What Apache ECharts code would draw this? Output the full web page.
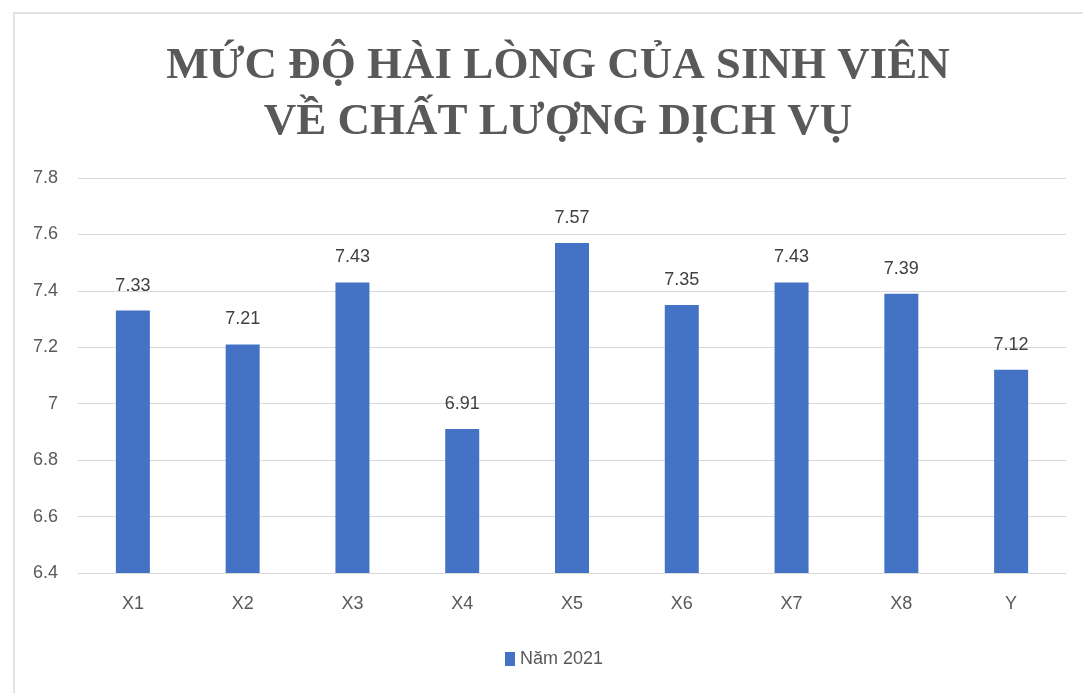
<!DOCTYPE html>
<html>
<head>
<meta charset="utf-8">
<script src="https://cdn.jsdelivr.net/npm/echarts@6/dist/echarts.min.js"></script>
<style>
  html, body { margin: 0; padding: 0; background: #fff; overflow: hidden; }
  #chart { position: absolute; left: 0; top: 0; width: 1083px; height: 693px; }
  #frame {
    position: absolute; left: 13px; top: 12px; width: 1100px; height: 720px;
    border: 2px solid #e3e3e3; pointer-events: none;
  }
</style>
</head>
<body>
<div id="frame"></div>
<div id="chart"></div>
<script>
// Chart data
const titleLines = ['MỨC ĐỘ HÀI LÒNG CỦA SINH VIÊN', 'VỀ CHẤT LƯỢNG DỊCH VỤ'];
const categories = ['X1', 'X2', 'X3', 'X4', 'X5', 'X6', 'X7', 'X8', 'Y'];
const seriesName = 'Năm 2021';
const values = [7.33, 7.21, 7.43, 6.91, 7.57, 7.35, 7.43, 7.39, 7.12];
const yMin = 6.4;
const yMax = 7.8;
const yStep = 0.2;

const labelFont = "'Liberation Sans', Arial, sans-serif";
const chart = echarts.init(document.getElementById('chart'));

chart.setOption({
    backgroundColor: 'transparent',
    animation: false,
    title: {
        text: titleLines.join('\n'),
        left: 553,
        textAlign: 'center',
        top: 33,
        textStyle: {
            fontFamily: "'Liberation Serif', 'Times New Roman', serif",
            fontWeight: 'bold',
            fontSize: 45,
            lineHeight: 56,
            color: '#595959'
        }
    },
    legend: {
        data: [seriesName],
        bottom: 20,
        left: 500,
        icon: 'rect',
        itemWidth: 10,
        itemHeight: 14,
        itemGap: 4,
        textStyle: { fontFamily: labelFont, fontSize: 18, color: '#595959' }
    },
    grid: { left: 78, right: 17, top: 178, bottom: 120 },
    xAxis: {
        type: 'category',
        data: categories,
        axisLine: { lineStyle: { color: '#d9d9d9', width: 1 } },
        axisTick: { show: false },
        axisLabel: { fontFamily: labelFont, fontSize: 18, color: '#595959', margin: 22 }
    },
    yAxis: {
        type: 'value',
        min: yMin,
        max: yMax,
        interval: yStep,
        axisLine: { show: false },
        axisTick: { show: false },
        axisLabel: {
            fontFamily: labelFont, fontSize: 18, color: '#595959', margin: 20,
            formatter: v => String(Math.round(v * 10) / 10)
        },
        splitLine: { lineStyle: { color: '#d9d9d9', width: 1 } }
    },
    series: [{
        name: seriesName,
        type: 'bar',
        data: values,
        barWidth: 34,
        itemStyle: { color: '#4472c4' },
        label: {
            show: true,
            position: 'top',
            distance: 16,
            fontFamily: labelFont,
            fontSize: 18,
            color: '#404040',
            formatter: p => p.value.toFixed(2)
        }
    }]
});
</script>
</body>
</html>
